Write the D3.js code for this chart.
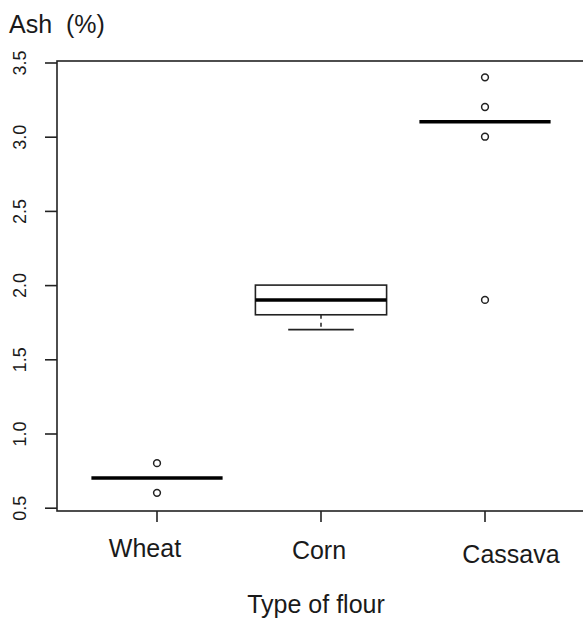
<!DOCTYPE html>
<html>
<head>
<meta charset="utf-8">
<script src="https://cdn.jsdelivr.net/npm/d3@7"></script>
<style>
  body { margin: 0; background: #fff; }
  svg { display: block; }
  text { font-family: "Liberation Sans", Arial, sans-serif; fill: #1a1a1a; }
</style>
</head>
<body>
<div id="chart"></div>
<script>
// boxplot stats
const categories = ['Wheat', 'Corn', 'Cassava'];
const q1 = [0.7, 1.8, 3.1];
const medians = [0.7, 1.9, 3.1];
const q3 = [0.7, 2.0, 3.1];
const whiskerLo = [0.7, 1.7, 3.1];
const whiskerHi = [0.7, 2.0, 3.1];
const outliers = [[0.8, 0.6], [], [3.4, 3.2, 3.0, 1.9]];
const yTicks = [0.5, 1.0, 1.5, 2.0, 2.5, 3.0, 3.5];

const W = 583, H = 619;
const frame = {left: 57, top: 61, right: 588, bottom: 511};
const boxwex = 0.8;
const line_col = '#222';

const svg = d3.select('#chart').append('svg')
    .attr('width', W).attr('height', H);

const y = d3.scaleLinear().domain([0.5, 3.5]).range([507.7, 62.5]);
const x = d3.scaleLinear().domain([0, 2]).range([157, 485]);
const unit = x(1) - x(0);

// frame
svg.append('rect')
    .attr('x', frame.left).attr('y', frame.top)
    .attr('width', frame.right - frame.left)
    .attr('height', frame.bottom - frame.top)
    .attr('fill', 'none').attr('stroke', line_col).attr('stroke-width', 1.6);

// y axis
const yAxis = d3.axisLeft(y).tickValues(yTicks).tickSize(12).tickFormat(d3.format('.1f'));
const gy = svg.append('g').attr('transform', `translate(${frame.left},0)`).call(yAxis);
gy.select('.domain').remove();
gy.selectAll('.tick line').attr('stroke', line_col).attr('stroke-width', 1.6);
gy.selectAll('.tick text')
    .attr('transform', 'rotate(-90)')
    .attr('x', 0).attr('y', 0).attr('dy', 0)
    .attr('text-anchor', 'middle')
    .attr('font-size', 18)
    .attr('fill', '#333')
    .each(function(d) {
        // rotate around a point left of the tick
        d3.select(this).attr('transform', `translate(${26 - frame.left},0) rotate(-90)`);
    });

// x axis (ticks only, labels placed below)
const labelDx = [-12, -2, 26];
const labelDy = [-2, 0, 4];
const gx = svg.append('g').attr('transform', `translate(0,${frame.bottom})`);
gx.selectAll('line').data(categories).join('line')
    .attr('x1', (d, i) => x(i)).attr('x2', (d, i) => x(i))
    .attr('y1', 0).attr('y2', 11)
    .attr('stroke', line_col).attr('stroke-width', 1.6);
svg.selectAll('.cat').data(categories).join('text')
    .attr('class', 'cat')
    .attr('x', (d, i) => x(i) + labelDx[i])
    .attr('y', (d, i) => 559 + labelDy[i])
    .attr('text-anchor', 'middle')
    .attr('font-size', 25)
    .text(d => d);

// boxes
const g = svg.append('g');
categories.forEach((c, i) => {
    const cx = x(i);
    const hw = unit * boxwex / 2;
    // whiskers
    [[q1[i], whiskerLo[i]], [q3[i], whiskerHi[i]]].forEach(([a, b]) => {
        if (a === b) return;
        g.append('line')
            .attr('x1', cx).attr('x2', cx)
            .attr('y1', y(a)).attr('y2', y(b))
            .attr('stroke', line_col).attr('stroke-width', 1.5)
            .attr('stroke-dasharray', '4,4');
        g.append('line')
            .attr('x1', cx - hw / 2).attr('x2', cx + hw / 2)
            .attr('y1', y(b)).attr('y2', y(b))
            .attr('stroke', line_col).attr('stroke-width', 1.6);
    });
    if (q3[i] > q1[i]) {
        g.append('rect')
            .attr('x', cx - hw).attr('y', y(q3[i]))
            .attr('width', 2 * hw).attr('height', y(q1[i]) - y(q3[i]))
            .attr('fill', 'none').attr('stroke', line_col).attr('stroke-width', 1.6);
    }
    // median
    g.append('line')
        .attr('x1', cx - hw).attr('x2', cx + hw)
        .attr('y1', y(medians[i])).attr('y2', y(medians[i]))
        .attr('stroke', '#000').attr('stroke-width', 3.5);
    // outliers
    g.selectAll(null).data(outliers[i]).join('circle')
        .attr('cx', cx).attr('cy', d => y(d)).attr('r', 3.4)
        .attr('fill', 'none').attr('stroke', line_col).attr('stroke-width', 1.5);
});

// titles
svg.append('text')
    .attr('x', 9).attr('y', 33)
    .attr('font-size', 25)
    .attr('xml:space', 'preserve')
    .style('white-space', 'pre')
    .text('Ash  (%)');

svg.append('text')
    .attr('x', 316).attr('y', 613)
    .attr('text-anchor', 'middle')
    .attr('font-size', 25)
    .text('Type of flour');
</script>
</body>
</html>
